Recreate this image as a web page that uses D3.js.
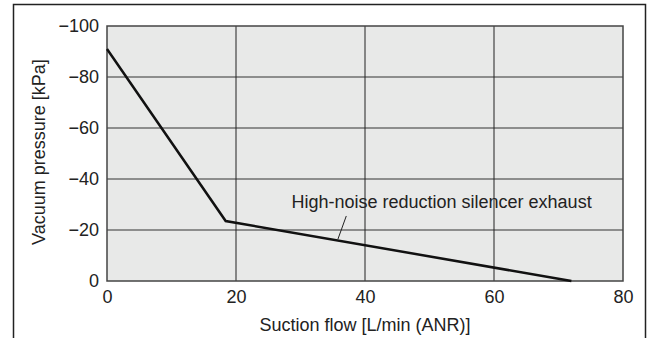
<!DOCTYPE html>
<html lang="en">
<head>
<meta charset="UTF-8">
<title>Vacuum pressure vs suction flow</title>
<script src="https://d3js.org/d3.v7.min.js"></script>
<style>
  body { margin: 0; background: #fff; }
  svg { font-family: "Liberation Sans", Arial, sans-serif; }
</style>
</head>
<body>
<div id="chart"></div>
<script>
// data
const flow = [0, 18.4, 72];          // L/min (ANR)
const pressure = [-91, -23.5, 0];    // kPa
const xTicks = [0, 20, 40, 60, 80];
const yTicks = [0, -20, -40, -60, -80, -100];
const seriesName = "High-noise reduction silencer exhaust";

const width = 654, height = 338;
const margin = { top: 26, right: 31, bottom: 57, left: 107 };
const w = width - margin.left - margin.right;
const h = height - margin.top - margin.bottom;
const fs = 18;

const svg = d3.select("#chart").append("svg")
  .attr("width", width)
  .attr("height", height);

// outer frame, open at the bottom
svg.append("path")
  .attr("d", `M13.5,${height} V4.5 H645.5 V${height}`)
  .attr("fill", "none")
  .attr("stroke", "#222")
  .attr("stroke-width", 1.5);

const g = svg.append("g")
  .attr("transform", `translate(${margin.left},${margin.top})`);

const x = d3.scaleLinear().domain([0, 80]).range([0, w]);
const y = d3.scaleLinear().domain([0, -100]).range([h, 0]);

g.append("rect")
  .attr("width", w).attr("height", h)
  .attr("fill", "#e8e9e8");

// grid
g.selectAll(".hgrid").data(yTicks.filter(d => d !== 0 && d !== -100))
  .join("line")
  .attr("x1", 0).attr("x2", w)
  .attr("y1", d => y(d)).attr("y2", d => y(d))
  .attr("stroke", "#333").attr("stroke-width", 1);

g.selectAll(".vgrid").data(xTicks.filter(d => d !== 0 && d !== 80))
  .join("line")
  .attr("y1", 0).attr("y2", h)
  .attr("x1", d => x(d)).attr("x2", d => x(d))
  .attr("stroke", "#222").attr("stroke-width", 1);

g.append("rect")
  .attr("width", w).attr("height", h)
  .attr("fill", "none")
  .attr("stroke", "#444").attr("stroke-width", 1.5);

// axes (labels only)
const fmt = d => d < 0 ? "\u2212" + Math.abs(d) : String(d);

const xAxis = g.append("g")
  .attr("transform", `translate(0,${h})`)
  .call(d3.axisBottom(x).tickValues(xTicks).tickFormat(fmt).tickSize(0).tickPadding(9));
const yAxis = g.append("g")
  .call(d3.axisLeft(y).tickValues(yTicks).tickFormat(fmt).tickSize(0).tickPadding(8));
[xAxis, yAxis].forEach(a => {
  a.select(".domain").remove();
  a.selectAll("text")
    .attr("font-family", "'Liberation Sans', Arial, sans-serif")
    .attr("font-size", fs)
    .attr("fill", "#222");
});

// series line
const line = d3.line()
  .x((d, i) => x(flow[i]))
  .y(d => y(d));

g.append("path")
  .datum(pressure)
  .attr("d", line)
  .attr("fill", "none")
  .attr("stroke", "#111")
  .attr("stroke-width", 2.5);

// label with leader line
g.append("text")
  .attr("x", x(28.6))
  .attr("y", y(-28.8))
  .attr("font-size", fs)
  .attr("fill", "#222")
  .text(seriesName);

g.append("line")
  .attr("x1", x(37.1)).attr("y1", y(-25.5))
  .attr("x2", x(35.8)).attr("y2", y(-16.4))
  .attr("stroke", "#222").attr("stroke-width", 1);

// axis titles
svg.append("text")
  .attr("x", margin.left + w / 2)
  .attr("y", 331)
  .attr("text-anchor", "middle")
  .attr("font-size", fs)
  .attr("fill", "#222")
  .text("Suction flow [L/min (ANR)]");

svg.append("text")
  .attr("transform", "translate(45,152) rotate(-90)")
  .attr("text-anchor", "middle")
  .attr("font-size", fs)
  .attr("fill", "#222")
  .text("Vacuum pressure [kPa]");
</script>
</body>
</html>
